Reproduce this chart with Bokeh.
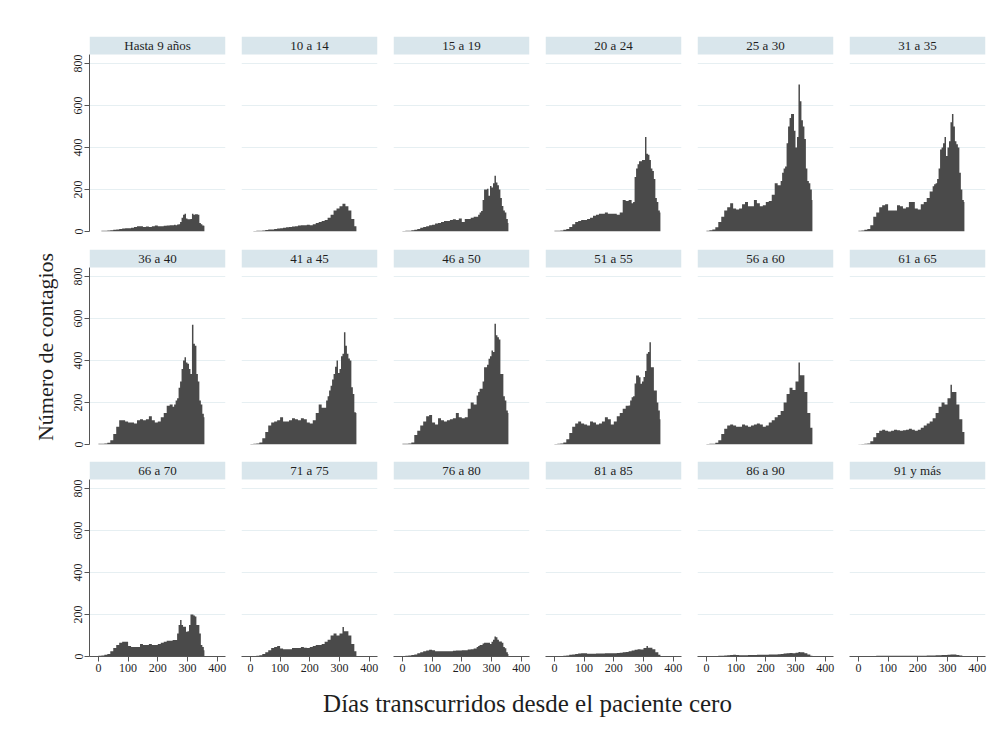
import numpy as np
from bokeh.plotting import figure
from bokeh.models import Range1d, BoxAnnotation, Label, FixedTicker, LinearAxis, Grid
from bokeh.layouts import row, column
from bokeh.embed import file_html
from bokeh.resources import INLINE

# ---------------- data ----------------
groups = ["Hasta 9 años", "10 a 14", "15 a 19", "20 a 24", "25 a 30", "31 a 35",
          "36 a 40", "41 a 45", "46 a 50", "51 a 55", "56 a 60", "61 a 65",
          "66 a 70", "71 a 75", "76 a 80", "81 a 85", "86 a 90", "91 y más"]

# start day of each bin: 10-day bins up to day 250, 5-day bins afterwards
day_bins = list(range(0, 250, 10)) + list(range(250, 360, 5))
last_day = 357

y_ticks = [0, 200, 400, 600, 800]
x_ticks = [0, 100, 200, 300, 400]

hasta_9 = [0, 3, 4, 5, 6, 8, 10, 12, 14, 15, 16, 18, 22, 25, 25, 22, 24, 22, 25, 28, 25, 25, 27, 28, 30,
           30, 32, 30, 33, 35, 45, 66, 80, 85, 62, 58, 58, 60, 85, 80, 82, 82, 80, 40, 35, 28, 27]
a10_14 = [0, 2, 3, 4, 5, 7, 9, 10, 12, 14, 16, 18, 20, 22, 24, 25, 28, 30, 30, 32, 30, 35, 40, 45, 50,
          55, 55, 65, 65, 80, 80, 100, 100, 110, 110, 120, 120, 132, 132, 120, 120, 100, 100, 60, 60, 25, 25]
a15_19 = [2, 3, 4, 6, 8, 12, 18, 22, 25, 30, 32, 38, 40, 45, 50, 50, 55, 58, 55, 62, 45, 60, 60, 65, 70,
          70, 80, 90, 98, 150, 200, 200, 204, 170, 217, 210, 230, 265, 233, 220, 200, 160, 122, 100, 90, 60, 40]
a20_24 = [3, 3, 5, 8, 12, 22, 35, 45, 50, 55, 55, 60, 65, 75, 80, 85, 85, 90, 85, 85, 85, 80, 90, 150, 145,
          150, 150, 135, 140, 260, 300, 320, 335, 335, 340, 340, 450, 370, 365, 340, 300, 288, 250, 160, 140, 100, 90]
a25_30 = [3, 6, 10, 20, 45, 70, 100, 115, 135, 110, 105, 110, 130, 140, 120, 120, 150, 135, 120, 125, 140, 145, 175, 230, 220,
          240, 280, 300, 310, 420, 500, 540, 560, 560, 480, 400, 450, 700, 620, 530, 500, 440, 300, 240, 230, 200, 150]
a31_35 = [3, 5, 8, 12, 30, 70, 90, 115, 125, 130, 100, 100, 100, 125, 120, 110, 115, 140, 140, 110, 105, 130, 140, 160, 190,
          215, 225, 230, 250, 300, 390, 400, 420, 450, 360, 400, 430, 520, 560, 500, 430, 415, 400, 280, 200, 150, 140]
a36_40 = [3, 4, 5, 8, 20, 50, 85, 115, 115, 110, 105, 105, 100, 115, 120, 115, 120, 135, 115, 105, 110, 130, 150, 185, 190,
          180, 190, 210, 220, 270, 300, 360, 400, 416, 390, 384, 360, 336, 570, 480, 470, 336, 300, 210, 190, 146, 130]
a41_45 = [2, 3, 5, 10, 30, 60, 90, 105, 110, 115, 130, 110, 110, 115, 125, 120, 115, 125, 120, 105, 100, 115, 150, 190, 175,
          175, 210, 230, 257, 280, 310, 336, 370, 400, 340, 360, 420, 432, 535, 470, 432, 410, 400, 273, 240, 154, 150]
a46_50 = [3, 4, 5, 10, 45, 65, 90, 110, 135, 140, 105, 95, 125, 115, 110, 115, 120, 125, 150, 130, 125, 130, 170, 200, 190,
          233, 250, 265, 265, 300, 368, 368, 380, 408, 420, 448, 440, 575, 520, 511, 500, 336, 336, 230, 210, 162, 150]
a51_55 = [2, 3, 5, 10, 25, 55, 85, 100, 110, 100, 95, 90, 110, 105, 95, 100, 110, 130, 120, 95, 110, 135, 150, 170, 185,
          186, 210, 225, 230, 290, 329, 329, 320, 289, 300, 321, 350, 432, 440, 487, 368, 368, 257, 257, 200, 162, 120]
a56_60 = [2, 3, 4, 8, 20, 50, 75, 90, 95, 90, 85, 85, 95, 90, 85, 90, 95, 100, 95, 85, 90, 105, 115, 130, 140,
          160, 160, 200, 200, 240, 240, 270, 270, 260, 260, 300, 300, 390, 330, 330, 330, 250, 250, 150, 150, 80, 80]
a61_65 = [1, 2, 3, 5, 15, 35, 55, 65, 70, 65, 62, 65, 70, 68, 65, 68, 70, 75, 70, 65, 70, 80, 90, 100, 110,
          125, 125, 150, 150, 180, 180, 200, 200, 190, 190, 220, 220, 285, 250, 250, 250, 190, 190, 120, 120, 60, 60]
a66_70 = [3, 5, 8, 12, 25, 40, 55, 65, 70, 70, 50, 45, 45, 45, 60, 55, 55, 60, 55, 55, 60, 65, 70, 75, 75,
          79, 79, 79, 110, 150, 174, 150, 142, 142, 118, 120, 150, 200, 200, 195, 190, 150, 150, 110, 55, 45, 30]
a71_75 = [1, 2, 4, 6, 12, 20, 30, 40, 45, 50, 38, 35, 35, 35, 40, 40, 40, 45, 42, 40, 45, 50, 55, 55, 60,
          70, 70, 80, 80, 100, 100, 110, 110, 100, 100, 110, 110, 140, 120, 120, 120, 100, 100, 60, 60, 25, 25]
a76_80 = [2, 3, 5, 7, 10, 15, 20, 25, 28, 32, 30, 25, 25, 25, 25, 25, 25, 27, 28, 28, 30, 30, 33, 35, 38,
          45, 50, 55, 55, 62, 66, 66, 66, 65, 60, 70, 80, 95, 92, 80, 71, 71, 65, 45, 39, 20, 12]
a81_85 = [1, 1, 2, 3, 5, 8, 10, 12, 14, 16, 15, 13, 13, 13, 14, 14, 14, 15, 15, 15, 16, 17, 18, 20, 22,
          25, 25, 28, 28, 32, 32, 35, 35, 33, 33, 40, 40, 50, 42, 42, 42, 35, 35, 20, 20, 8, 8]
a86_90 = [0, 1, 1, 2, 3, 4, 5, 6, 7, 8, 7, 6, 6, 6, 7, 7, 7, 8, 8, 8, 8, 9, 9, 10, 11,
          12, 12, 14, 14, 15, 15, 17, 17, 16, 16, 18, 18, 22, 20, 20, 20, 16, 16, 10, 10, 4, 4]
a91_mas = [0, 0, 1, 1, 2, 2, 3, 3, 3, 4, 3, 3, 3, 3, 3, 3, 3, 4, 4, 4, 4, 4, 4, 5, 5,
           5, 5, 6, 6, 6, 6, 7, 7, 7, 7, 8, 8, 10, 9, 9, 9, 7, 7, 5, 5, 2, 2]

series = [hasta_9, a10_14, a15_19, a20_24, a25_30, a31_35,
          a36_40, a41_45, a46_50, a51_55, a56_60, a61_65,
          a66_70, a71_75, a76_80, a81_85, a86_90, a91_mas]

# ---------------- style ----------------
FONT = "Liberation Serif"
FILL = "#4a4a4a"
HEADER = "#d9e6ec"
GRID = "#e6eff2"
AXIS = "#555555"
TXT = "#1e1e1e"

X0, X1 = -30, 428
Y_TOP_DATA = 843
Y1 = 928.6


def make_panel(r, c, title, vals):
    left = 89 if c == 0 else 8
    top = 36 if r == 0 else (9 if r == 1 else 8)
    bottom = 25 if r == 2 else 9
    p = figure(frame_width=136, frame_height=195,
               x_range=Range1d(X0, X1), y_range=Range1d(0, Y1),
               min_border_left=left, min_border_right=8,
               min_border_top=top, min_border_bottom=bottom,
               x_axis_location=None, y_axis_location=None,
               output_backend="svg", toolbar_location=None)
    p.xgrid.visible = False
    p.ygrid.visible = False
    p.outline_line_color = None
    p.background_fill_color = "white"
    p.border_fill_color = "white"

    p.add_layout(Grid(dimension=1, ticker=FixedTicker(ticks=y_ticks),
                      grid_line_color=GRID, grid_line_width=1))

    n = min(len(day_bins), len(vals))
    xs = day_bins[:n] + [last_day]
    ys = list(vals[:n]) + [vals[n - 1]]
    p.varea_step(x=xs, y1=0, y2=ys, step_mode="after", fill_color=FILL)

    p.add_layout(BoxAnnotation(bottom=Y_TOP_DATA, fill_color=HEADER, fill_alpha=1.0,
                               line_color=None))
    p.add_layout(Label(x=(X0 + X1) / 2, y=(Y_TOP_DATA + Y1) / 2, text=title,
                       text_align="center", text_baseline="middle",
                       text_font=FONT, text_font_size="13px", text_color=TXT))

    if c == 0:
        ya = LinearAxis(ticker=FixedTicker(ticks=y_ticks, minor_ticks=[]),
                        bounds=(0, Y_TOP_DATA))
        ya.axis_line_color = AXIS
        ya.major_tick_line_color = AXIS
        ya.minor_tick_line_color = None
        ya.major_tick_out = 5
        ya.major_tick_in = 0
        ya.major_label_orientation = "vertical"
        ya.major_label_standoff = 2
        ya.major_label_text_font = FONT
        ya.major_label_text_font_size = "12px"
        ya.major_label_text_color = TXT
        if r == 1:
            ya.axis_label = "Número de contagios"
            ya.axis_label_text_font = FONT
            ya.axis_label_text_font_size = "22px"
            ya.axis_label_text_font_style = "normal"
            ya.axis_label_text_color = TXT
            ya.axis_label_standoff = 14
        p.add_layout(ya, "left")

    if r == 2:
        xa = LinearAxis(ticker=FixedTicker(ticks=x_ticks, minor_ticks=[]))
        xa.axis_line_color = AXIS
        xa.major_tick_line_color = AXIS
        xa.minor_tick_line_color = None
        xa.major_tick_out = 5
        xa.major_tick_in = 0
        xa.major_label_standoff = 2
        xa.major_label_text_font = FONT
        xa.major_label_text_font_size = "12px"
        xa.major_label_text_color = TXT
        p.add_layout(xa, "below")
    return p


rows = []
for r in range(3):
    figs = []
    for c in range(6):
        i = r * 6 + c
        figs.append(make_panel(r, c, groups[i], series[i]))
    rows.append(row(*figs))

tf = figure(width=1001, height=40, x_range=Range1d(0, 1001), y_range=Range1d(0, 40),
            min_border=0, x_axis_location=None, y_axis_location=None,
            output_backend="svg", toolbar_location=None)
tf.xgrid.visible = False
tf.ygrid.visible = False
tf.outline_line_color = None
tf.add_layout(Label(x=527, y=18, text="Días transcurridos desde el paciente cero",
                    text_align="center", text_baseline="middle",
                    text_font=FONT, text_font_size="25px", text_color=TXT))

layout = column(*rows, tf)

open("out.html", "w").write(file_html(layout, INLINE))
